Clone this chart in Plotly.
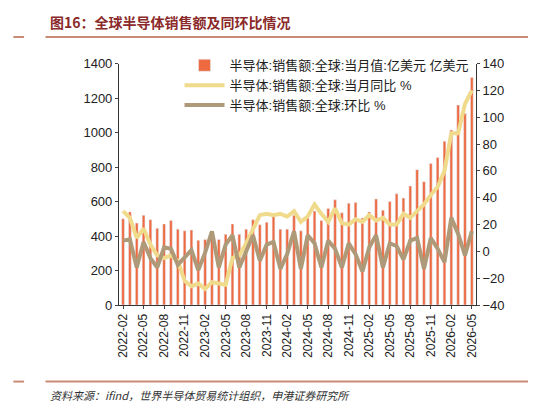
import plotly.graph_objects as go
import pandas as pd

months = pd.date_range("2022-02-01", "2026-05-01", freq="MS").strftime("%Y-%m").tolist()
sales = [500,540,475,520,495,445,470,490,440,430,435,375,380,
         395,380,410,470,410,440,495,465,480,515,440,440,520,430,505,545,490,560,610,535,590,595,505,540,615,550,600,645,620,690,785,715,820,855,950,1015,1160,1110,1320]
yoy = [30,25,10,17,5,-3,-5,-3,-7,-22,-26,-24,-28,-23,-24,-25,-5,-3,6,17,27,28,27,28,26,30,22,26,35,28,22,32,21,20,24,22,27,23,25,20,20,28,25,30,35,42,48,60,88,88,110,120]
mom = [8,9,-12,7,-5,-12,3,2,-10,-4,1,-14,-1,15,-12,5,12,-12,0,12,-7,5,7,-13,-2,15,-13,12,6,-12,8,2,-12,6,-2,-15,3,12,-12,6,4,-6,8,10,-13,10,2,-8,25,13,-3,15]
ticks = months[::3]

fig = go.Figure()
fig.add_bar(x=months, y=sales, name="半导体:销售额:全球:当月值:亿美元 亿美元", marker_color="#EE6B42", width=0.4)
fig.add_scatter(x=months, y=yoy, name="半导体:销售额:全球:当月同比 %", yaxis="y2", mode="lines", line=dict(color="#F0DA8C", width=4))
fig.add_scatter(x=months, y=mom, name="半导体:销售额:全球:环比 %", yaxis="y2", mode="lines", line=dict(color="#AE9A78", width=4))

red = "#C98A78"
fig.update_layout(
    width=536, height=403, margin=dict(l=0, r=0, t=0, b=0),
    plot_bgcolor="white", paper_bgcolor="white",
    font=dict(family="Liberation Sans, Noto Sans CJK SC", size=13, color="#222"),
    xaxis=dict(domain=[0.207, 0.873], type="category", tickmode="array", tickvals=ticks, ticktext=ticks,
               tickangle=-90, showline=True, linecolor="#333", ticks="outside", ticklen=3, showgrid=False,
               automargin=False, range=[-0.6, 51.6], tickfont=dict(size=12)),
    yaxis=dict(domain=[0.263, 0.862], range=[0, 1400], dtick=200, showline=True, linecolor="#333",
               ticks="outside", ticklen=3, showgrid=False, automargin=False),
    yaxis2=dict(overlaying="y", side="right", range=[-40, 140], dtick=20, showline=True, linecolor="#333",
                ticks="outside", ticklen=3, showgrid=False, automargin=False),
    legend=dict(x=0.32, y=0.895, xanchor="left", yanchor="top", bgcolor="rgba(0,0,0,0)",
                font=dict(size=13), tracegroupgap=0, itemwidth=40),
    showlegend=True,
)
fig.add_annotation(text="<b>图16：全球半导体销售额及同环比情况</b>", x=0.075, y=0.965, xref="paper", yref="paper",
                   xanchor="left", yanchor="middle", showarrow=False, font=dict(size=14, color="#8B2A2A", family="Noto Sans CJK SC"))
fig.add_annotation(text="<i>资料来源：ifind，世界半导体贸易统计组织，申港证券研究所</i>", x=0.075, y=0.04, xref="paper", yref="paper",
                   xanchor="left", yanchor="middle", showarrow=False, font=dict(size=11, color="#333", family="Noto Sans CJK SC"))
for y in [0.928, 0.073]:
    fig.add_shape(type="line", xref="paper", yref="paper", x0=0.07, x1=0.99, y0=y, y1=y, line=dict(color=red, width=2))
    fig.add_shape(type="line", xref="paper", yref="paper", x0=0.01, x1=0.03, y0=y, y1=y, line=dict(color=red, width=2))
fig.write_html("out.html")
